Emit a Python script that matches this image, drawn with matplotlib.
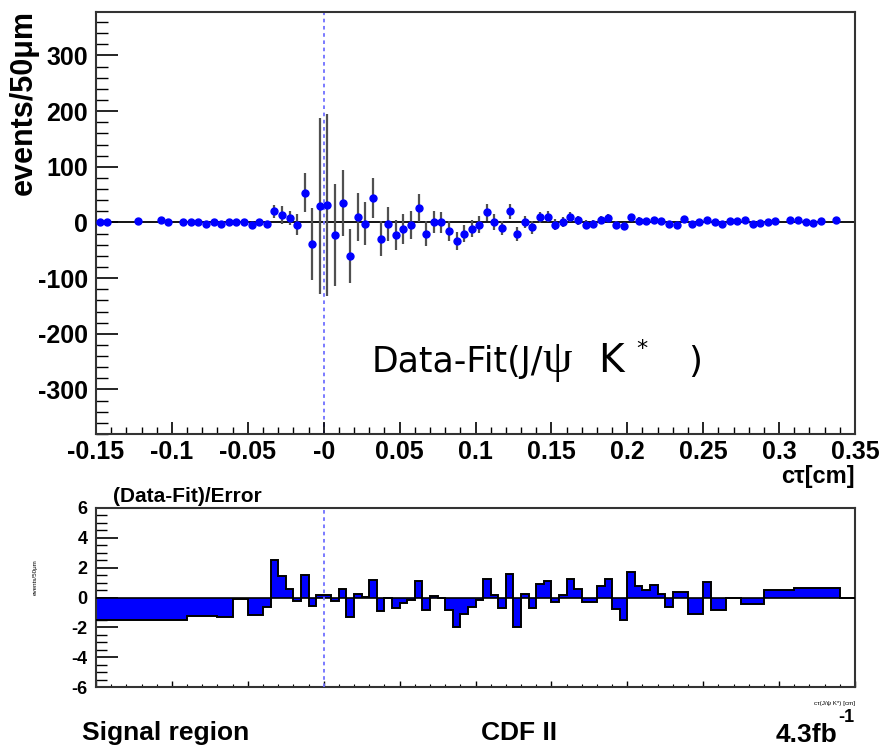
import numpy as np
import matplotlib
matplotlib.use("Agg")
import matplotlib.pyplot as plt
from matplotlib.ticker import MultipleLocator, FixedLocator, FixedFormatter

# ── data ──────────────────────────────────────────────────────────────────────
# upper panel: Data-Fit per 50um bin (bin centres in cm)
bin_x = [-0.1475, -0.1425, -0.1225, -0.1075, -0.1025, -0.0925, -0.0875, -0.0825,
         -0.0775, -0.0725, -0.0675, -0.0625, -0.0575, -0.0525, -0.0475, -0.0425,
         -0.0375, -0.0325, -0.0275, -0.0225, -0.0175, -0.0125, -0.0075, -0.0025,
         0.0025, 0.0075, 0.0125, 0.0175, 0.0225, 0.0275, 0.0325, 0.0375,
         0.0425, 0.0475, 0.0525, 0.0575, 0.0625, 0.0675, 0.0725, 0.0775,
         0.0825, 0.0875, 0.0925, 0.0975, 0.1025, 0.1075, 0.1125, 0.1175,
         0.1225, 0.1275, 0.1325, 0.1375, 0.1425, 0.1475, 0.1525, 0.1575,
         0.1625, 0.1675, 0.1725, 0.1775, 0.1825, 0.1875, 0.1925, 0.1975,
         0.2025, 0.2075, 0.2125, 0.2175, 0.2225, 0.2275, 0.2325, 0.2375,
         0.2425, 0.2475, 0.2525, 0.2575, 0.2625, 0.2675, 0.2725, 0.2775,
         0.2825, 0.2875, 0.2925, 0.2975, 0.3075, 0.3125, 0.3175, 0.3225,
         0.3275, 0.3375]
diff_y = [1, 1, 2, 4, 0.5, 0, 0, 0,
          -3, 0, -3, 0.5, 1, 0, -5, 0,
          -2, 20, 14, 8, -4, 53, -39, 30,
          31, -23, 35, -60, 10, -2, 44, -29,
          -3, -23, -11, -5, 26, -20, 1, 0,
          -16, -34, -20, -11, -4, 18, 1, -10,
          20, -21, 1, -9, 9, 10, -4, 1,
          9, 4, -4, -3, 5, 8, -4, -7,
          10, 3, 2, 5, 2, -2, -4, 7,
          -3, 1, 5, 1, -2, 2, 2, 4,
          -2, -1, 1, 3, 5, 4, 1, -1,
          2, 4]
diff_err = [3, 3, 3, 3, 3, 3, 3, 3,
            3, 3, 3, 3, 3, 3, 3, 3,
            4, 12, 16, 13, 19, 35, 65, 158,
            164, 92, 60, 49, 43, 38, 36, 32,
            30, 27, 27, 25, 25, 22, 20, 19,
            18, 16, 16, 15, 15, 15, 14, 13,
            13, 13, 11, 11, 10, 10, 10, 9,
            9, 8, 8, 7, 7, 7, 6, 6,
            6, 6, 5, 5, 5, 5, 5, 5,
            4, 4, 4, 4, 4, 4, 4, 4,
            4, 4, 4, 4, 4, 4, 4, 4,
            4, 4]

# lower panel: (Data-Fit)/Error, variable bins
pull_edges = [-0.15, -0.09, -0.07, -0.06, -0.05, -0.04,
              -0.035, -0.03, -0.025, -0.02, -0.015, -0.01, -0.005, 0.0,
              0.005, 0.01, 0.015, 0.02, 0.025, 0.03, 0.035, 0.04,
              0.045, 0.05, 0.055, 0.06, 0.065, 0.07, 0.075, 0.08,
              0.085, 0.09, 0.095, 0.10, 0.105, 0.11, 0.115, 0.12,
              0.125, 0.13, 0.135, 0.14, 0.145, 0.15, 0.155, 0.16,
              0.165, 0.17,
              0.18, 0.185, 0.19, 0.195, 0.20, 0.205, 0.21, 0.215,
              0.22, 0.225, 0.23,
              0.24, 0.25, 0.255, 0.265, 0.275, 0.29, 0.31, 0.34, 0.35]
pull_vals = [-1.52, -1.27, -1.33, -0.1, -1.2,
             -0.65, 2.5, 1.45, 0.6, -0.25, 1.5, -0.55, 0.2,
             0.2, -0.25, 0.58, -1.3, 0.22, 0.05, 1.17, -0.9,
             -0.05, -0.73, -0.38, -0.2, 1.12, -0.83, 0.1, 0.0,
             -0.83, -1.95, -1.12, -0.62, -0.15, 1.27, 0.15, -0.73,
             1.55, -1.95, 0.22, -0.73, 0.88, 1.1, -0.33, 0.15,
             1.22, 0.6,
             -0.33,
             0.74, 1.23, -0.78, -1.5, 1.7, 0.78, 0.47, 0.85,
             0.25, -0.65,
             0.34, -1.1, 1.07, -0.83, 0.0, -0.45, 0.47, 0.63, 0.0]

xticks_top = [-0.15, -0.1, -0.05, 0.0, 0.05, 0.1, 0.15, 0.2, 0.25, 0.3, 0.35]
xtick_labels = ["-0.15", "-0.1", "-0.05", "-0", "0.05", "0.1", "0.15",
                "0.2", "0.25", "0.3", "0.35"]

W, H = 883, 747
FRAME = "#333333"
DASH = "#6f6fff"

plt.rcParams.update({
    "font.family": ["Liberation Sans", "DejaVu Sans"],
    "font.weight": "bold",
    "axes.linewidth": 1.5,
    "axes.edgecolor": FRAME,
    "axes.unicode_minus": False,
})

fig = plt.figure(figsize=(W / 100, H / 100), dpi=100)

def frac(x0, y0, x1, y1):
    return [x0 / W, 1 - y1 / H, (x1 - x0) / W, (y1 - y0) / H]

ax = fig.add_axes(frac(96, 12, 855, 434))
axb = fig.add_axes(frac(96, 508, 855, 687))

# ── upper panel ───────────────────────────────────────────────────────────────
ax.axhline(0, color="black", lw=1.3, zorder=1)
ax.axvline(0, color=DASH, lw=1.3, ls=(0, (2, 2)), zorder=1)
ax.errorbar(bin_x, diff_y, yerr=diff_err, fmt="o", color="blue", ms=5,
            ecolor="#505050", elinewidth=1.6, capsize=0, zorder=3)
ax.set_xlim(-0.15, 0.35)
ax.set_ylim(-380, 378)
ax.xaxis.set_major_locator(FixedLocator(xticks_top))
ax.xaxis.set_major_formatter(FixedFormatter(xtick_labels))
ax.xaxis.set_minor_locator(MultipleLocator(0.01))
ax.set_yticks([-300, -200, -100, 0, 100, 200, 300])
ax.yaxis.set_minor_locator(MultipleLocator(20))
ax.tick_params(axis="x", which="major", direction="in", length=9, width=1.2,
               labelsize=18, pad=4)
ax.tick_params(axis="x", which="minor", direction="in", length=5, width=1.0)
ax.tick_params(axis="y", which="major", direction="in", length=16, width=1.2,
               labelsize=18, pad=6)
ax.tick_params(axis="y", which="minor", direction="in", length=8.5, width=1.0)

fig.text(24 / W, 1 - 10 / H, "events/50\u03bcm", rotation=90, ha="center",
         va="top", fontsize=22, fontweight="bold")
fig.text(855 / W, 1 - 477 / H, "c\u03c4[cm]", ha="right", va="center",
         fontsize=17, fontweight="bold")

# in-plot label, set in pieces to follow the wide psi of the original
lab_y = 1 - 372 / H
fig.text(372 / W, lab_y, "Data-Fit(J/", ha="left", va="baseline",
         fontsize=25, fontweight="normal", family="DejaVu Sans")
fig.text(542 / W, lab_y, "\u03c8", ha="left", va="baseline",
         fontsize=34, fontweight="normal", family="Liberation Serif")
fig.text(598 / W, lab_y, "K", ha="left", va="baseline",
         fontsize=28, fontweight="normal", family="DejaVu Sans")
fig.text(636 / W, 1 - 355 / H, "*", ha="left", va="baseline",
         fontsize=16, fontweight="normal", family="DejaVu Sans")
fig.text(688 / W, lab_y, ")", ha="left", va="baseline",
         fontsize=26, fontweight="normal", family="DejaVu Sans")

# ── lower panel ───────────────────────────────────────────────────────────────
axb.stairs(pull_vals, pull_edges, baseline=0, fill=True, color="blue", zorder=2)
axb.stairs(pull_vals, pull_edges, baseline=None, color="black", lw=1.4, zorder=3)
axb.axhline(0, color="black", lw=1.2, zorder=3)
axb.axvline(0, color=DASH, lw=1.3, ls=(0, (2, 2)), zorder=4)
axb.set_xlim(-0.15, 0.35)
axb.set_ylim(-6, 6)
axb.xaxis.set_major_locator(MultipleLocator(0.05))
axb.xaxis.set_minor_locator(MultipleLocator(0.01))
axb.yaxis.set_major_locator(MultipleLocator(2))
axb.yaxis.set_minor_locator(MultipleLocator(0.5))
axb.tick_params(axis="x", which="major", direction="in", length=4, width=1.0,
                labelbottom=False)
axb.tick_params(axis="x", which="minor", direction="in", length=2, width=0.8)
axb.tick_params(axis="y", which="major", direction="in", length=16, width=1.2,
                labelsize=13, pad=6)
axb.tick_params(axis="y", which="minor", direction="in", length=8, width=1.0)

fig.text(113 / W, 1 - 497 / H, "(Data-Fit)/Error", ha="left", va="center",
         fontsize=15, fontweight="bold")
fig.text(35 / W, 1 - 577 / H, "events/50\u03bcm", rotation=90, ha="center",
         va="center", fontsize=4.5, fontweight="normal")
fig.text(855 / W, 1 - 703 / H, "c\u03c4(J/\u03c8 K*) [cm]", ha="right",
         va="center", fontsize=4.5, fontweight="normal")

# footer
fig.text(82 / W, 1 - 733 / H, "Signal region", ha="left", va="center",
         fontsize=19, fontweight="bold")
fig.text(519 / W, 1 - 733 / H, "CDF II", ha="center", va="center",
         fontsize=19, fontweight="bold")
fig.text(837 / W, 1 - 742 / H, "4.3fb", ha="right", va="baseline",
         fontsize=19, fontweight="bold")
fig.text(838 / W, 1 - 722 / H, "-1", ha="left", va="baseline",
         fontsize=13, fontweight="bold")

fig.savefig("out.png", dpi=100)
